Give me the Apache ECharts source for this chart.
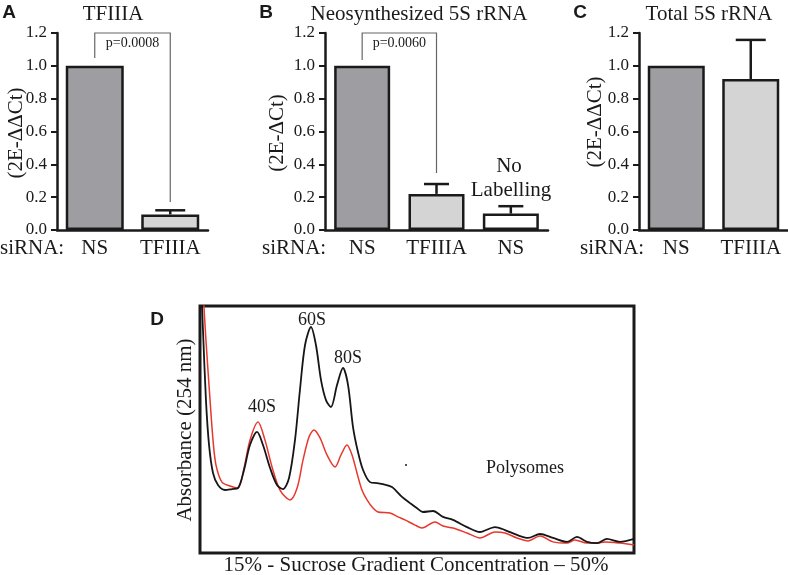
<!DOCTYPE html>
<html><head><meta charset="utf-8">
<script src="https://cdn.jsdelivr.net/npm/echarts@6/dist/echarts.min.js"></script>
<style>html,body{margin:0;padding:0;background:#fff}#c{width:788px;height:575px}</style>
</head><body><div id="c"></div>
<script>
// ---- Panel A: TFIIIA ----
const catsA = ['NS', 'TFIIIA'];
const valsA = [1.0, 0.095];
const errTopA = [null, 0.12];
// ---- Panel B: Neosynthesized 5S rRNA ----
const catsB = ['NS', 'TFIIIA', 'NS'];
const valsB = [1.0, 0.22, 0.10];
const errTopB = [null, 0.28, 0.145];
// ---- Panel C: Total 5S rRNA ----
const catsC = ['NS', 'TFIIIA'];
const valsC = [1.0, 0.92];
const errTopC = [null, 1.158];
// bar colours per category
const barColorsA = ['#9e9ea2', '#d4d4d4'];
const barColorsB = ['#9e9ea2', '#d4d4d4', '#ffffff'];
const barColorsC = ['#9e9ea2', '#d4d4d4'];
// significance brackets: [leftCat, leftY, rightCat, rightY, topY]
const bracketA = [0, 1.047, 1, 0.17, 1.2];
const bracketB = [0, 1.035, 1, 0.347, 1.2];
const pA = 'p=0.0008';
const pB = 'p=0.0060';
// ---- Panel D: sucrose gradient profile (x = sucrose %, y = absorbance a.u.) ----
const gradX_black = [15.08,15.24,15.48,15.73,16.05,16.45,17.02,17.58,18.06,18.55,19.03,19.60,20.08,20.65,21.21,21.69,22.18,22.66,23.06,23.47,23.95,24.35,24.76,25.16,25.56,26.05,26.53,26.94,27.34,27.74,28.15,28.71,29.27,29.76,30.48,31.29,31.94,32.48,32.97,33.79,34.60,35.40,36.53,37.58,38.79,39.60,40.56,41.45,42.42,43.47,44.60,45.40,46.21,47.02,47.82,48.87,50.00];
const absBlack = [1.105,0.903,0.619,0.437,0.324,0.275,0.255,0.259,0.263,0.336,0.437,0.490,0.437,0.344,0.275,0.259,0.304,0.457,0.660,0.842,0.915,0.842,0.700,0.619,0.591,0.680,0.749,0.680,0.510,0.409,0.336,0.287,0.283,0.279,0.267,0.227,0.202,0.182,0.166,0.170,0.146,0.134,0.105,0.085,0.105,0.093,0.073,0.061,0.077,0.061,0.045,0.065,0.045,0.040,0.057,0.045,0.057];
const gradX_red = [15.24,15.48,15.81,16.05,16.29,16.77,17.42,18.06,18.55,19.03,19.68,20.24,20.81,21.45,22.26,22.83,23.31,23.79,24.19,24.68,25.24,25.89,26.37,26.85,27.26,27.66,28.06,28.47,28.95,29.35,30.32,30.97,31.53,32.34,32.90,33.95,34.60,35.40,36.53,37.58,38.79,39.60,40.56,41.45,42.42,43.47,44.60,45.24,46.21,47.02,47.66,48.87,50.00];
const absRed = [1.065,0.862,0.619,0.457,0.356,0.287,0.271,0.263,0.344,0.457,0.530,0.457,0.348,0.255,0.215,0.263,0.377,0.470,0.498,0.466,0.397,0.348,0.397,0.437,0.397,0.324,0.255,0.215,0.182,0.166,0.162,0.146,0.134,0.113,0.101,0.126,0.109,0.101,0.081,0.061,0.085,0.081,0.061,0.049,0.069,0.045,0.040,0.053,0.040,0.040,0.045,0.040,0.032];

const SERIF = '"Liberation Serif","DejaVu Serif",serif';
const SANS = '"Liberation Sans",Arial,sans-serif';
const INK = '#1a1a1a';

const chart = echarts.init(document.getElementById('c'));

function barGrid(left, right) { return {left: left, right: right, top: 33, bottom: 345, containLabel: false}; }
function catAxis(idx, cats) {
  return {type: 'category', gridIndex: idx, data: cats,
    axisLine: {lineStyle: {color: INK, width: 2.5}}, axisTick: {show: false},
    axisLabel: {color: INK, fontFamily: SERIF, fontSize: 21, margin: 8, interval: 0, hideOverlap: false}};
}
function valAxis(idx) {
  return {type: 'value', gridIndex: idx, min: 0, max: 1.2, interval: 0.2,
    splitLine: {show: false},
    axisLine: {show: true, lineStyle: {color: INK, width: 2.5}},
    axisTick: {show: true, length: 6, lineStyle: {color: INK, width: 2}},
    axisLabel: {color: INK, fontFamily: SERIF, fontSize: 17, margin: 10,
      formatter: v => v.toFixed(1)}};
}
function barSeries(idx, vals, colors, bw) {
  return {type: 'bar', xAxisIndex: idx, yAxisIndex: idx, barWidth: bw,
    data: vals.map((v, i) => ({value: v, itemStyle: {color: colors[i]}})),
    itemStyle: {borderColor: INK, borderWidth: 2.5}, z: 2};
}
function errSeries(idx, vals, tops, capW) {
  const d = [];
  vals.forEach((v, i) => { if (tops[i] != null) d.push([i, v, tops[i]]); });
  return {type: 'custom', xAxisIndex: idx, yAxisIndex: idx, z: 3, data: d,
    renderItem: (params, api) => {
      const p0 = api.coord([api.value(0), api.value(1)]);
      const p1 = api.coord([api.value(0), api.value(2)]);
      const st = {stroke: INK, lineWidth: 2.5};
      return {type: 'group', children: [
        {type: 'line', shape: {x1: p0[0], y1: p0[1], x2: p1[0], y2: p1[1]}, style: st},
        {type: 'line', shape: {x1: p1[0] - capW / 2, y1: p1[1], x2: p1[0] + capW / 2, y2: p1[1]}, style: st}
      ]};
    }};
}
function bracketSeries(idx, b, label) {
  return {type: 'custom', xAxisIndex: idx, yAxisIndex: idx, z: 4, data: [b], clip: false,
    renderItem: (params, api) => {
      const a = api.coord([api.value(0), api.value(1)]);
      const t1 = api.coord([api.value(0), api.value(4)]);
      const t2 = api.coord([api.value(2), api.value(4)]);
      const c = api.coord([api.value(2), api.value(3)]);
      return {type: 'group', children: [
        {type: 'polyline', shape: {points: [a, t1, t2, c]}, style: {stroke: '#666', lineWidth: 1.2, fill: null}},
        {type: 'text', x: (t1[0] + t2[0]) / 2, y: t1[1] + 3,
          style: {text: label, textAlign: 'center', textVerticalAlign: 'top', font: '14px ' + SERIF, fill: INK}}
      ]};
    }};
}

function txt(x, y, s, size, family, opts) {
  return Object.assign({type: 'text', x: x, y: y, z: 10,
    style: Object.assign({text: s, font: size + 'px ' + family, fill: INK, textAlign: 'center', textVerticalAlign: 'middle'}, (opts && opts.style) || {})},
    (opts && opts.el) || {});
}

const option = {
  animation: false,
  backgroundColor: '#fff',
  grid: [
    barGrid(57, 580),
    barGrid(325, 240),
    barGrid(639, 0),
    {left: 200, top: 306, width: 434, height: 247, show: true, borderColor: INK, borderWidth: 3, backgroundColor: 'transparent'}
  ],
  xAxis: [
    catAxis(0, catsA), catAxis(1, catsB), catAxis(2, catsC),
    {type: 'value', gridIndex: 3, min: 15, max: 50, show: false}
  ],
  yAxis: [
    valAxis(0), valAxis(1), valAxis(2),
    {type: 'value', gridIndex: 3, min: 0, max: 1, show: false}
  ],
  series: [
    barSeries(0, valsA, barColorsA, 58), errSeries(0, valsA, errTopA, 30), bracketSeries(0, bracketA, pA),
    barSeries(1, valsB, barColorsB, 56), errSeries(1, valsB, errTopB, 25), bracketSeries(1, bracketB, pB),
    barSeries(2, valsC, barColorsC, 57), errSeries(2, valsC, errTopC, 30),
    {type: 'line', xAxisIndex: 3, yAxisIndex: 3, data: gradX_red.map((x, i) => [x, absRed[i]]),
      showSymbol: false, smooth: 0.3, clip: true, lineStyle: {color: '#e8372c', width: 1.5}, z: 3},
    {type: 'line', xAxisIndex: 3, yAxisIndex: 3, data: gradX_black.map((x, i) => [x, absBlack[i]]),
      showSymbol: false, smooth: 0.3, clip: true, lineStyle: {color: '#161616', width: 1.8}, z: 4}
  ],
  graphic: [
    // panel letters
    txt(9, 13, 'A', 'bold 19', SANS),
    txt(266, 13, 'B', 'bold 19', SANS),
    txt(580, 13, 'C', 'bold 19', SANS),
    txt(157, 320, 'D', 'bold 19', SANS),
    // titles
    txt(113, 14, 'TFIIIA', 21, SERIF),
    txt(419, 14, 'Neosynthesized 5S rRNA', 21, SERIF),
    txt(709, 14, 'Total 5S rRNA', 21, SERIF),
    // y-axis titles
    txt(16, 133, '(2E-ΔΔCt)', 21, SERIF, {el: {rotation: Math.PI / 2}}),
    txt(277, 133, '(2E-ΔCt)', 21, SERIF, {el: {rotation: Math.PI / 2}}),
    txt(595, 122, '(2E-ΔΔCt)', 21, SERIF, {el: {rotation: Math.PI / 2}}),
    // siRNA row labels
    txt(0, 248, 'siRNA:', 21, SERIF, {style: {textAlign: 'left'}}),
    txt(262, 248, 'siRNA:', 21, SERIF, {style: {textAlign: 'left'}}),
    txt(580, 248, 'siRNA:', 21, SERIF, {style: {textAlign: 'left'}}),
    // No Labelling
    txt(509, 166, 'No', 21, SERIF),
    txt(511, 190, 'Labelling', 21, SERIF),
    // panel D annotations
    txt(262, 407, '40S', 18, SERIF),
    txt(312, 320, '60S', 18, SERIF),
    txt(348, 358, '80S', 18, SERIF),
    txt(525, 468, 'Polysomes', 18, SERIF),
    {type: 'circle', shape: {cx: 406, cy: 465, r: 1}, style: {fill: INK}},
    txt(185, 430, 'Absorbance (254 nm)', 21, SERIF, {el: {rotation: Math.PI / 2}}),
    txt(416, 565, '15% - Sucrose Gradient Concentration \u2013 50%', 21, SERIF)
  ]
};
chart.setOption(option);
</script>
</body></html>
